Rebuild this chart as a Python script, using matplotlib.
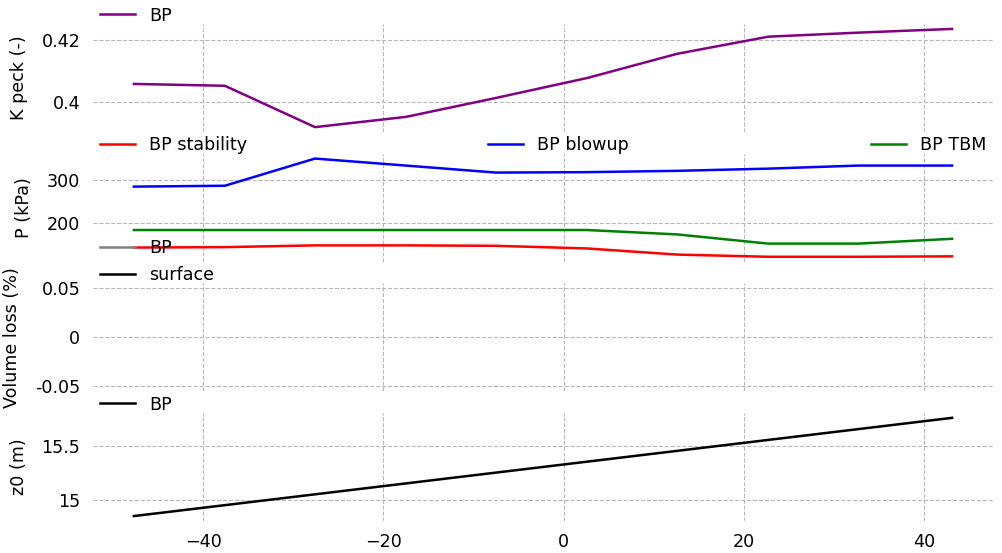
import numpy as np
import matplotlib
matplotlib.use("Agg")
import matplotlib.pyplot as plt
from matplotlib.ticker import FuncFormatter

# chainage along the alignment (m)
x = [-47.7, -37.6, -27.6, -17.5, -7.5, 2.6, 12.6, 22.7, 32.7, 43.1]

k_peck = [0.4058, 0.4052, 0.3919, 0.3952, 0.4013, 0.4077, 0.4155, 0.4210, 0.4223, 0.4235]

p_stability = [145, 146, 150, 150, 149, 143, 129, 124, 124, 125]
p_blowup = [284, 286, 348, 332, 316, 317, 320, 325, 332, 332]
p_tbm = [185, 185, 185, 185, 185, 185, 175, 154, 154, 165]

vl_bp = [np.nan] * len(x)
vl_surface = [np.nan] * len(x)

z0 = [14.855, 14.955, 15.054, 15.154, 15.253, 15.353, 15.452, 15.552, 15.651, 15.754]

plt.rcParams['font.size'] = 12.6
fig, axes = plt.subplots(4, 1, sharex=True, figsize=(10.03, 5.53), dpi=100)
fig.subplots_adjust(left=0.0927, right=0.99, top=0.9566, bottom=0.0579, hspace=0.2)

fmt = FuncFormatter(lambda v, p: '{:g}'.format(v))

ax = axes[0]
ax.plot(x, k_peck, color='purple', lw=1.8, label='BP')
ax.set_ylabel('K peck (-)', labelpad=10)
ax.set_yticks([0.4, 0.42])

ax = axes[1]
ax.plot(x, p_stability, color='red', lw=1.8, label='BP stability')
ax.plot(x, p_blowup, color='blue', lw=1.8, label='BP blowup')
ax.plot(x, p_tbm, color='green', lw=1.8, label='BP TBM')
ax.set_ylabel('P (kPa)', labelpad=10)
ax.set_yticks([200, 300])

ax = axes[2]
ax.plot(x, vl_bp, color='gray', lw=1.8, label='BP')
ax.plot(x, vl_surface, color='black', lw=1.8, label='surface')
ax.set_ylim(-0.055, 0.055)
ax.set_yticks([-0.05, 0, 0.05])
ax.set_ylabel('Volume loss (%)', labelpad=10)

ax = axes[3]
ax.plot(x, z0, color='black', lw=1.8, label='BP')
ax.set_ylabel('z0 (m)', labelpad=10)
ax.set_yticks([15, 15.5])

for i, ax in enumerate(axes):
    for s in ax.spines.values():
        s.set_visible(False)
    ax.grid(True, ls='--', color='#b8b8b8', lw=0.8)
    ax.tick_params(length=0, pad=9)
    ax.yaxis.set_major_formatter(fmt)
    if i == 1:
        ax.legend(loc='lower left', bbox_to_anchor=(0, 0.93, 1, 0.1), ncol=3,
                  mode='expand', frameon=False, borderaxespad=0)
    else:
        ax.legend(loc='lower left', bbox_to_anchor=(0, 0.93), frameon=False,
                  borderaxespad=0)

axes[3].set_xticks([-40, -20, 0, 20, 40])

fig.savefig('out.png')
